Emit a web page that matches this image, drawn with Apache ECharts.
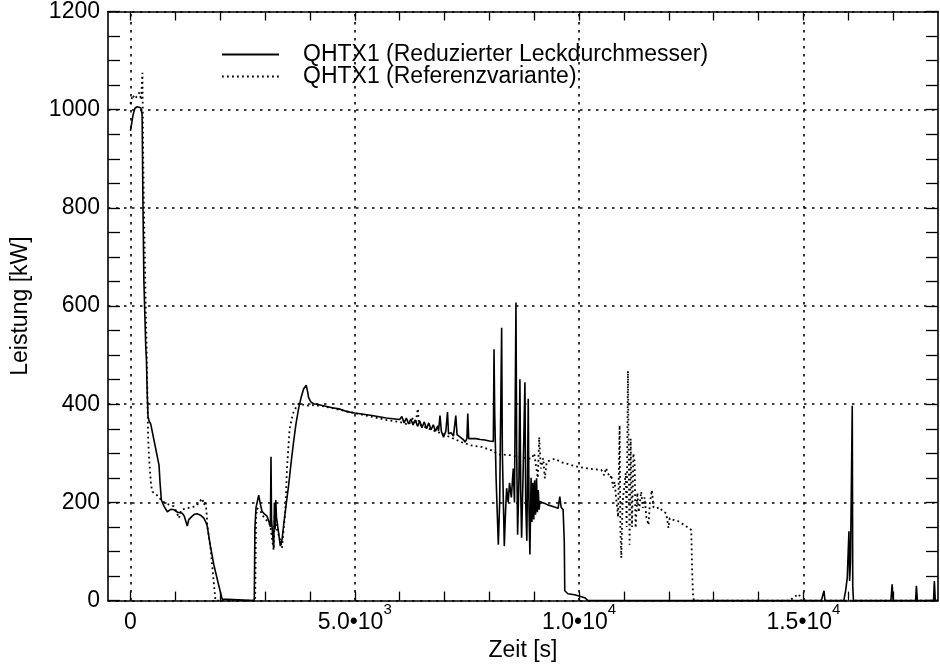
<!DOCTYPE html>
<html><head><meta charset="utf-8">
<script src="https://cdn.jsdelivr.net/npm/echarts@6/dist/echarts.min.js"></script>
<style>html,body{margin:0;padding:0;background:#fff}#c{width:940px;height:667px}</style>
</head><body><div id="c"></div>
<script>
// ---------- DATA ----------
const seriesNames = ['QHTX1 (Reduzierter Leckdurchmesser)', 'QHTX1 (Referenzvariante)'];

const xTickValues = [0, 5000, 10000, 15000];
const xTickMantissa = ['0', '5.0\u202210', '1.0\u202210', '1.5\u202210'];
const xTickExponent = ['', '3', '4', '4'];
const xMinorTickValues = [0,1000,2000,3000,4000,5000,6000,7000,8000,9000,10000,11000,12000,13000,14000,15000,16000,17000];
const yTickValues = [0, 200, 400, 600, 800, 1000, 1200];

// QHTX1 (Reduzierter Leckdurchmesser)  [Zeit s, Leistung kW]
const reducedLeak = [
 [0,957],[60,990],[100,1003],[150,1006],[230,1004],[260,990],[280,800],[300,650],[318,593],[340,520],
 [356,492],[375,420],[393,374],[420,365],[452,360],[540,320],[637,276],[660,240],[689,205],[750,192],
 [822,181],[900,186],[970,185],[1050,180],[1155,178],[1200,172],[1240,160],[1267,152],[1300,165],[1378,172],
 [1430,176],[1489,177],[1560,174],[1637,168],[1680,160],[1711,152],[1780,112],[1859,73],[1950,38],[2044,3],
 [2060,0],[2760,0],[2775,150],[2800,190],[2859,215],[2900,195],[2933,182],[2990,176],[3044,172],[3090,160],
 [3120,150],[3133,293],[3145,165],[3165,140],[3193,107],[3210,200],[3225,145],[3240,205],[3255,170],[3267,162],
 [3300,140],[3341,111],[3380,125],[3415,154],[3470,195],[3526,235],[3580,280],[3637,324],[3690,360],[3748,391],
 [3800,412],[3859,431],[3918,439],[3950,425],[3970,414],[4020,405],[4081,401],[4200,399],[4304,397],[4500,393],
 [4674,390],[4822,385],[5000,382],[5385,377],[5700,372],[6000,369],[6050,375],[6100,362],[6150,372],[6200,360],
 [6250,370],[6300,358],[6350,368],[6400,355],[6450,366],[6496,352],[6550,364],[6600,350],[6650,362],[6700,348],
 [6750,358],[6800,345],[6850,356],[6867,345],[6900,377],[6930,345],[6978,333],[7030,345],[7067,384],[7090,340],
 [7150,342],[7200,335],[7252,377],[7280,338],[7350,333],[7420,328],[7459,323],[7500,330],[7519,381],[7540,330],
 [7607,330],[7700,330],[7800,328],[7900,327],[8000,325],[8089,324],[8104,512],[8120,380],[8150,250],[8200,114],
 [8230,200],[8274,556],[8290,300],[8333,111],[8360,180],[8385,229],[8420,200],[8450,240],[8490,210],[8533,269],
 [8560,200],[8593,607],[8610,300],[8630,134],[8660,250],[8681,451],[8700,220],[8719,128],[8750,250],[8793,445],
 [8810,200],[8835,122],[8850,240],[8867,411],[8885,180],[8904,94],[8930,250],[8950,160],[8970,240],[8990,165],
 [9010,245],[9030,175],[9052,249],[9070,180],[9090,225],[9110,185],[9126,202],[9180,200],[9237,198],[9300,195],
 [9400,192],[9533,188],[9570,212],[9600,190],[9644,185],[9670,120],[9681,20],[9750,14],[9900,12],[10126,6],
 [10200,0],[15400,0],[15459,20],[15480,0],[15900,0],[15941,20],[15978,47],[16015,141],[16030,40],[16050,80],
 [16089,397],[16100,30],[16115,0],[16950,0],[16978,33],[17000,0],[17500,0],[17519,30],[17540,0],[17900,0],
 [17919,40],[17940,0],[18000,0]
];

// QHTX1 (Referenzvariante)  [Zeit s, Leistung kW]
const referenceVariant = [
 [0,1012],[50,1030],[100,1022],[150,1028],[200,1035],[240,1020],[267,1075],[285,900],[300,800],[320,700],
 [340,600],[360,520],[393,337],[415,290],[437,262],[460,235],[489,222],[600,214],[711,202],[850,196],
 [970,192],[1030,180],[1081,168],[1130,185],[1267,188],[1350,190],[1452,192],[1530,200],[1600,208],[1640,195],
 [1674,202],[1700,175],[1711,154],[1785,107],[1850,45],[1896,0],[2780,0],[2800,170],[2822,188],[2900,182],
 [2970,170],[3050,162],[3118,154],[3150,130],[3193,103],[3215,178],[3250,150],[3300,135],[3341,121],[3378,107],
 [3420,150],[3452,182],[3489,269],[3548,350],[3600,372],[3637,384],[3700,395],[3748,401],[3850,399],[3918,397],
 [4050,398],[4230,397],[4500,392],[4800,386],[5100,380],[5400,374],[5700,368],[6000,364],[6200,358],[6300,372],
 [6350,360],[6407,391],[6430,360],[6600,352],[6800,345],[7000,338],[7200,330],[7400,322],[7600,316],[7830,313],
 [8052,306],[8200,298],[8496,296],[8700,292],[8941,289],[9000,300],[9080,250],[9111,333],[9148,269],[9200,290],
 [9237,249],[9280,283],[9459,289],[9600,282],[9830,276],[10000,272],[10200,269],[10496,266],[10560,255],[10600,270],
 [10644,259],[10700,250],[10718,256],[10760,230],[10793,242],[10830,205],[10870,170],[10904,357],[10920,150],[10941,87],
 [10970,200],[11000,196],[11040,260],[11060,150],[11089,468],[11110,250],[11126,114],[11150,330],[11180,150],[11210,300],
 [11237,283],[11260,148],[11300,220],[11330,180],[11385,222],[11420,189],[11460,210],[11500,170],[11548,154],[11580,200],
 [11622,225],[11660,190],[11719,188],[11800,190],[11860,182],[11941,178],[11993,148],[12020,168],[12089,165],[12200,162],
 [12348,154],[12500,144],[12520,60],[12540,10],[12560,0],[14700,0],[14800,8],[14904,13],[14950,0],[18000,0]
];

// ---------- CHART ----------
const FONT = "'Liberation Sans', Arial, Helvetica, sans-serif";
const chart = echarts.init(document.getElementById('c'), null, {renderer: 'canvas'});

const axisLineStyle = {color: '#000', width: 1.6};
const gridDash = {color: '#000', width: 1.6, type: [2.5, 5.5]};

function xLabel(v) {
  const i = xTickValues.indexOf(v);
  if (i < 0) return '';
  return '{m|' + xTickMantissa[i] + '}' + (xTickExponent[i] ? '{e|' + xTickExponent[i] + '}' : '');
}

chart.setOption({
  animation: false,
  backgroundColor: '#fff',
  grid: {left: 108, right: 2, top: 10, bottom: 64, containLabel: false},
  legend: {
    orient: 'vertical', left: 216, top: 38,
    itemWidth: 57, itemHeight: 14, itemGap: -1,
    itemStyle: {opacity: 0},
    textStyle: {fontSize: 23, color: '#000', fontFamily: FONT, padding: [0, 0, 0, 19]},
    data: seriesNames
  },
  xAxis: [{
    type: 'value', position: 'bottom', min: -500, max: 18000,
    axisLine: {show: true, onZero: false, lineStyle: axisLineStyle},
    axisTick: {show: true, inside: true, length: 9, customValues: xMinorTickValues, lineStyle: {color: '#000', width: 1.3}},
    axisLabel: {
      customValues: xTickValues, formatter: xLabel, margin: 2,
      rich: {
        m: {fontSize: 23, fontFamily: FONT, color: '#000', lineHeight: 40},
        e: {fontSize: 15, fontFamily: FONT, color: '#000', lineHeight: 15, verticalAlign: 'top'}
      }
    },
    splitLine: {show: false},
    name: 'Zeit [s]', nameLocation: 'middle', nameGap: 33,
    nameTextStyle: {fontSize: 23, color: '#000', fontFamily: FONT}
  }, {
    type: 'value', position: 'top', min: -500, max: 18000,
    axisLine: {show: true, onZero: false, lineStyle: axisLineStyle},
    axisTick: {show: true, inside: true, length: 9, customValues: xMinorTickValues, lineStyle: {color: '#000', width: 1.3}},
    axisLabel: {show: false},
    splitLine: {show: false}
  }],
  yAxis: [{
    type: 'value', position: 'left', min: 0, max: 1200, interval: 200,
    axisLine: {show: true, onZero: false, lineStyle: axisLineStyle},
    axisTick: {show: true, inside: true, length: 12, lineStyle: {color: '#000', width: 1.3}},
    minorTick: {show: true, splitNumber: 4, length: 12, lineStyle: {color: '#000', width: 1.3}},
    axisLabel: {fontSize: 23, color: '#000', fontFamily: FONT, margin: 8,
      formatter: v => (yTickValues.indexOf(v) >= 0 ? String(v) : '')},
    splitLine: {show: true, lineStyle: gridDash},
    name: 'Leistung [kW]', nameLocation: 'middle', nameGap: 76, nameRotate: 90,
    nameTextStyle: {fontSize: 23, color: '#000', fontFamily: FONT}
  }, {
    type: 'value', position: 'right', min: 0, max: 1200, interval: 200,
    axisLine: {show: true, onZero: false, lineStyle: axisLineStyle},
    axisTick: {show: true, inside: true, length: 12, lineStyle: {color: '#000', width: 1.3}},
    minorTick: {show: true, splitNumber: 4, length: 12, lineStyle: {color: '#000', width: 1.3}},
    axisLabel: {show: false},
    splitLine: {show: false}
  }],
  series: [{
    name: seriesNames[0], type: 'line', xAxisIndex: 0, yAxisIndex: 0,
    data: reducedLeak, symbol: 'none', showSymbol: false,
    lineStyle: {color: '#000', width: 1.6},
    itemStyle: {color: '#000'},
    z: 3,
    markLine: {
      silent: true, symbol: 'none', label: {show: false}, animation: false,
      lineStyle: gridDash, z: 1,
      data: xTickValues.map(v => ({xAxis: v}))
    }
  }, {
    name: seriesNames[1], type: 'line', xAxisIndex: 0, yAxisIndex: 0,
    data: referenceVariant, symbol: 'none', showSymbol: false,
    lineStyle: {color: '#000', width: 1.8, type: [1.8, 3.2]},
    itemStyle: {color: '#000'},
    z: 2
  }]
});
</script>
</body></html>
